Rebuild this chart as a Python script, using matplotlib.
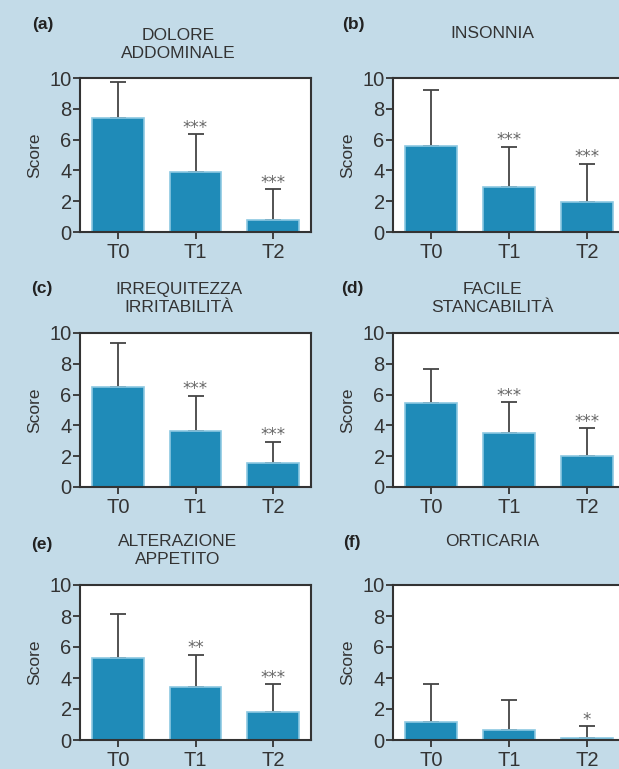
import matplotlib
matplotlib.use("Agg")
import matplotlib.pyplot as plt

plt.rcParams['font.family'] = ['Liberation Sans', 'DejaVu Sans']

categories = ["T0", "T1", "T2"]
panel_letters = ["(a)", "(b)", "(c)", "(d)", "(e)", "(f)"]
titles = ["DOLORE\nADDOMINALE", "INSONNIA", "IRREQUITEZZA\nIRRITABILITÀ",
          "FACILE\nSTANCABILITÀ", "ALTERAZIONE\nAPPETITO", "ORTICARIA"]
means_a = [7.43, 3.90, 0.80]
means_b = [5.56, 2.92, 1.93]
means_c = [6.50, 3.64, 1.55]
means_d = [5.43, 3.53, 2.01]
means_e = [5.29, 3.43, 1.79]
means_f = [1.14, 0.65, 0.13]
err_top_a = [9.76, 6.34, 2.80]
err_top_b = [9.20, 5.54, 4.44]
err_top_c = [9.37, 5.93, 2.95]
err_top_d = [7.68, 5.52, 3.83]
err_top_e = [8.14, 5.51, 3.63]
err_top_f = [3.63, 2.59, 0.91]
stars_a = ["", "***", "***"]
stars_b = ["", "***", "***"]
stars_c = ["", "***", "***"]
stars_d = ["", "***", "***"]
stars_e = ["", "**", "***"]
stars_f = ["", "", "*"]
yticks = [0, 2, 4, 6, 8, 10]

means = [means_a, means_b, means_c, means_d, means_e, means_f]
tops = [err_top_a, err_top_b, err_top_c, err_top_d, err_top_e, err_top_f]
stars = [stars_a, stars_b, stars_c, stars_d, stars_e, stars_f]

W, H = 619, 769
BG = "#c3dbe8"
BAR = "#1f8bb8"
EDGE = "#8cc8e2"
DARK = "#333333"

fig = plt.figure(figsize=(W / 100, H / 100), dpi=100, facecolor=BG)

col_x = [(80, 311), (393, 625)]
row_y = [(78, 232), (333, 487), (585, 740)]
label_pos = [(32, 24), (342, 24), (31, 289), (341, 289), (31, 544), (343, 542)]
title_pos = [(178, 44), (492, 34), (179, 299), (492, 299), (178, 551), (492, 542)]

for i in range(6):
    r, c = divmod(i, 2)
    x0, x1 = col_x[c]
    yt, yb = row_y[r]
    ax = fig.add_axes([x0 / W, 1 - yb / H, (x1 - x0) / W, (yb - yt) / H])
    ax.set_facecolor("white")
    xs = list(range(len(categories)))
    m = means[i]
    err = [t - v for t, v in zip(tops[i], m)]
    ax.bar(xs, m, width=0.66, color=BAR, edgecolor=EDGE, linewidth=1.2, zorder=2)
    ax.errorbar(xs, m, yerr=[[0] * 3, err], fmt="none", ecolor="#444444",
                elinewidth=1.3, capsize=6, capthick=1.3, zorder=1)
    for x, t, s in zip(xs, tops[i], stars[i]):
        if s:
            ax.annotate(s, (x, t), xytext=(0, -2), textcoords="offset points",
                        ha="center", va="bottom", fontsize=12, color="#666666",
                        family=['DejaVu Sans'])
    ax.set_xlim(-0.49, 2.49)
    ax.set_ylim(0, 10)
    ax.set_yticks(yticks)
    ax.set_xticks(xs)
    ax.set_xticklabels(categories)
    ax.tick_params(axis="both", colors=DARK, labelsize=14.5, length=5, width=1.3,
                   direction="out", pad=1)
    ax.tick_params(axis="x", pad=3)
    for sp in ax.spines.values():
        sp.set_color(DARK)
        sp.set_linewidth(1.5)
    ax.set_ylabel("Score", fontsize=12.5, color=DARK, labelpad=5)
    lx, ly = label_pos[i]
    fig.text(lx / W, 1 - ly / H, panel_letters[i], fontsize=12.5, fontweight="bold",
             color="#222222", ha="left", va="center")
    tx, ty = title_pos[i]
    fig.text(tx / W, 1 - ty / H, titles[i], fontsize=12.5, color=DARK,
             ha="center", va="center", linespacing=1.25)

fig.savefig("out.png", dpi=100, facecolor=BG)
